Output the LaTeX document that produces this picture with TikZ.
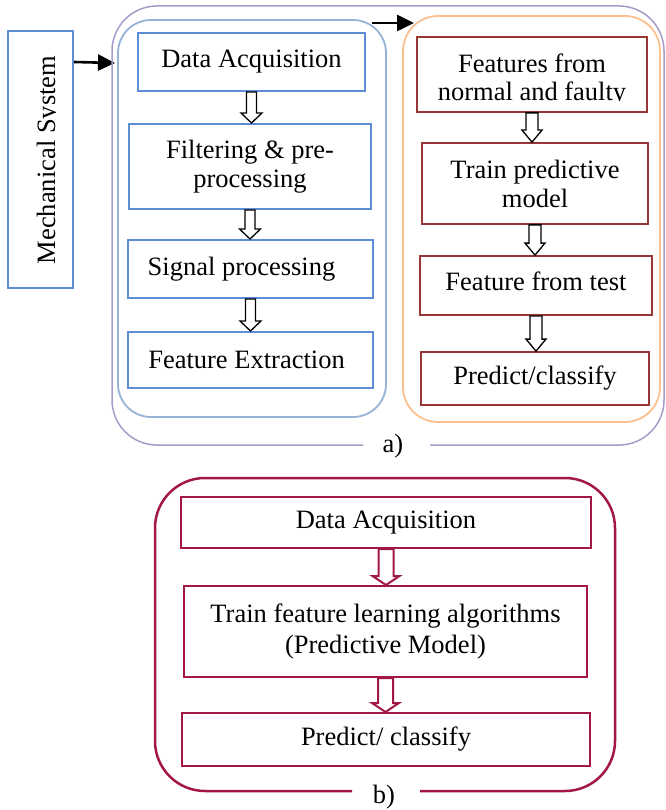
\documentclass[tikz,border=0pt]{standalone}
\usepackage{fontspec}
\setmainfont{Liberation Serif}
\usetikzlibrary{arrows.meta,calc}
\definecolor{boxblue}{HTML}{5B8ED6}
\definecolor{contblue}{HTML}{95B3D7}
\definecolor{contpurple}{HTML}{A99BC9}
\definecolor{contorange}{HTML}{FAC090}
\definecolor{boxred}{HTML}{953735}
\definecolor{crim}{HTML}{A31746}
\begin{document}
\begin{tikzpicture}[x=1pt,y=-1pt,
  txt/.style={font=\fontsize{26.5}{29}\selectfont, align=center, inner sep=0pt},
  bluebox/.style={txt, draw=boxblue, line width=2pt},
  redbox/.style={txt, draw=boxred, line width=1.8pt},
  crimbox/.style={txt, draw=crim, line width=2pt},
  blackarrow/.style={line width=2.6pt, -{Triangle[length=17pt,width=16pt]}},
  blockarrow/.style n args={3}{to path={let \p1=(\tikztostart), \p2=(\tikztotarget) in
    ({\x1-#1},{\y1}) -- ({\x1-#1},{\y2+#3}) -- ({\x1-#2},{\y2+#3}) -- ({\x1},{\y2})
    -- ({\x1+#2},{\y2+#3}) -- ({\x1+#1},{\y2+#3}) -- ({\x1+#1},{\y1}) -- cycle}},
  hollowblack/.style={draw=black, fill=white, line width=1.3pt, line join=miter},
  hollowcrim/.style={draw=crim, fill=white, line width=2pt, line join=miter}
]
\useasboundingbox (0,0) rectangle (665,810);

% ---------- a) ----------
% Mechanical system
\node[draw=boxblue, line width=2pt, minimum width=65pt, minimum height=257pt, inner sep=0pt] (mech) at (40.5,159.5) {};
\begin{scope}
  \clip (10,33) rectangle (55.5,286);
  \node[txt, rotate=90, anchor=base] (mechtxt) at (55,160) {Mechanical System};
\end{scope}
\coordinate (macin) at (115,63);
\draw[blackarrow] ([yshift=-32pt]mech.north east) -- (macin);

% containers
\draw[contpurple, line width=1.5pt, rounded corners=45pt]
  (363,445) -- (112,445) -- (112,6) -- (664,6) -- (664,445) -- (430,445);
\node[txt] (la) at (393,446.5) {a)};
\draw[contblue, line width=1.8pt, rounded corners=33pt] (118,20) rectangle (386,417);
\draw[contorange, line width=1.8pt, rounded corners=35pt] (403,16) rectangle (660,422);

\coordinate (t1) at (372,23);
\coordinate (t2) at (414,23);
\draw[blackarrow] (t1) -- (t2);

% left column
\node[bluebox, minimum width=227pt, minimum height=58pt] (b1) at (251.5,62) {Data Acquisition};
\node[bluebox, minimum width=242pt, minimum height=85pt] (b2) at (250,166.5) {Filtering \& pre-\\processing};
\node[bluebox, minimum width=245pt, minimum height=58pt] (b3) at (250.5,269) {Signal processing\hspace*{18pt}};
\node[bluebox, minimum width=245pt, minimum height=56pt] (b4) at (250.5,360) {Feature Extraction\hspace*{8pt}};
\draw[hollowblack] (b1.south) to[blockarrow={5pt}{10.5pt}{10pt}] (b2.north);
\draw[hollowblack] (b2.south) to[blockarrow={5pt}{10.5pt}{10pt}] (b3.north);
\draw[hollowblack] (b3.south) to[blockarrow={5pt}{10.5pt}{10pt}] (b4.north);

% right column
\node[redbox, minimum width=230pt, minimum height=75pt] (r1) at (532,74.5) {};
\begin{scope}
  \clip (419,39) rectangle (645,101);
  \node[txt, font=\fontsize{26.5}{28}\selectfont] (r1txt) at (532,79.8) {Features from\\normal and faulty};
\end{scope}
\node[redbox, minimum width=226pt, minimum height=81pt] (r2) at (535,183.5) {Train predictive\\model};
\node[redbox, minimum width=232pt, minimum height=59pt] (r3) at (536,285.5) {};
\node[txt, anchor=base] (r3txt) at (536,290) {Feature from test};
\node[redbox, minimum width=228pt, minimum height=53pt] (r4) at (535,378.5) {Predict/classify};
\draw[hollowblack] (r1.south) to[blockarrow={6pt}{10pt}{12pt}] (r2.north);
\draw[hollowblack] (r2.south) to[blockarrow={6pt}{10pt}{12pt}] (r3.north);
\draw[hollowblack] (r3.south) to[blockarrow={6pt}{10pt}{12pt}] (r4.north);

% ---------- b) ----------
\draw[crim, line width=2.5pt, rounded corners=50pt]
  (352,791) -- (155,791) -- (155,478) -- (615,478) -- (615,791) -- (420,791);
\node[txt] (lb) at (384,797) {b)};
\node[crimbox, minimum width=410pt, minimum height=51pt] (c1) at (386,522.5) {Data Acquisition};
\node[crimbox, minimum width=403pt, minimum height=91pt, font=\fontsize{26.5}{31}\selectfont] (c2) at (385.5,631.5) {Train feature learning algorithms\\(Predictive Model)};
\node[crimbox, minimum width=408pt, minimum height=53pt] (c3) at (386,739.5) {Predict/ classify};
\draw[hollowcrim] (c1.south) to[blockarrow={7.5pt}{13.5pt}{9pt}] (c2.north);
\draw[hollowcrim] (c2.south) to[blockarrow={7.5pt}{13.5pt}{9pt}] (c3.north);
\end{tikzpicture}
\end{document}
